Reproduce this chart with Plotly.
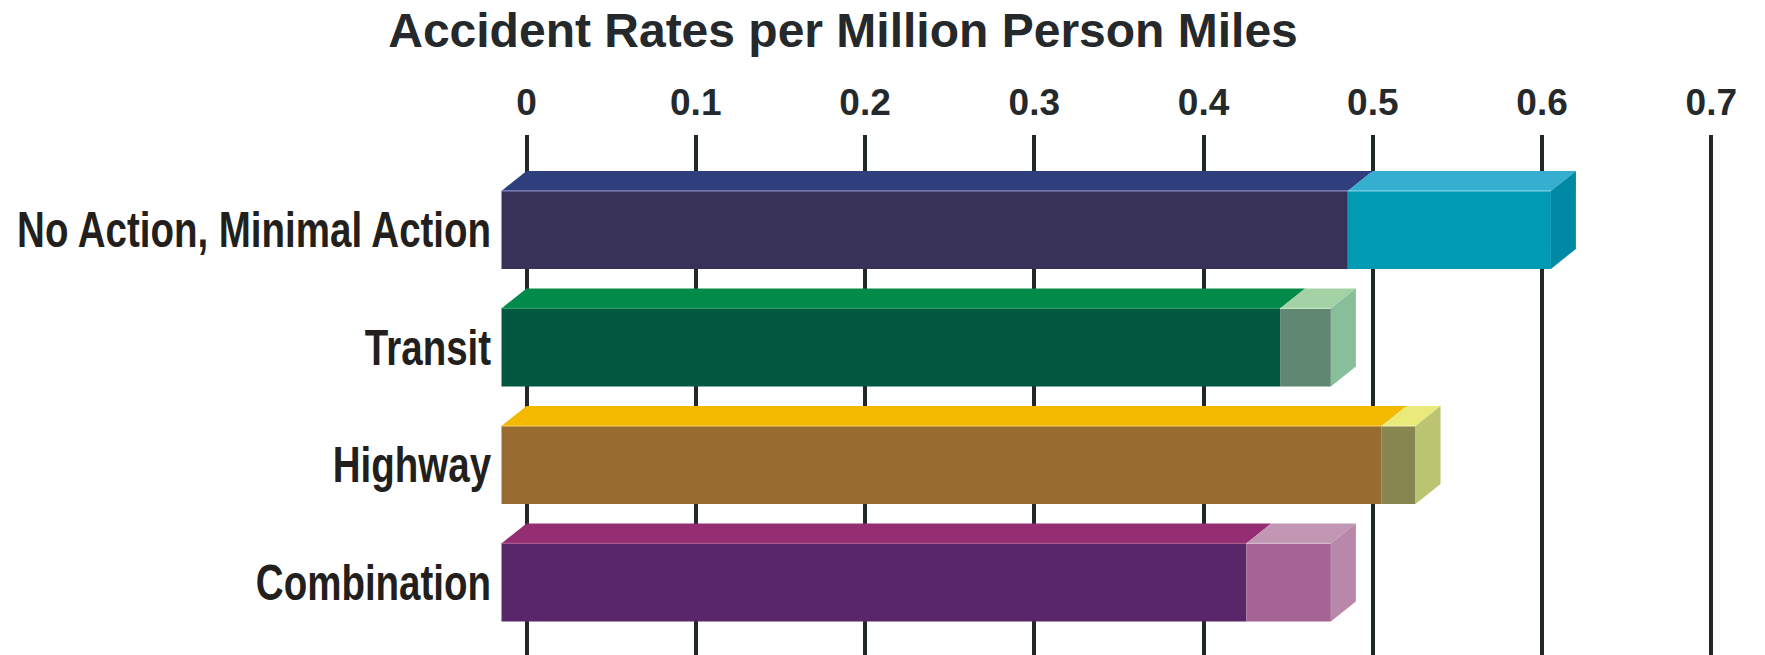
import plotly.graph_objects as go

# Accident rates per million person miles, by alternative
categories = ["No Action, Minimal Action", "Transit", "Highway", "Combination"]
lower_rate = [0.50, 0.46, 0.52, 0.44]
upper_rate = [0.62, 0.49, 0.54, 0.49]
tick_values = [0, 0.1, 0.2, 0.3, 0.4, 0.5, 0.6, 0.7]
tick_labels = ["0", "0.1", "0.2", "0.3", "0.4", "0.5", "0.6", "0.7"]

# Face colours per alternative: (front, top) for the lower and upper segments, plus end cap
front_low = ["#383158", "#01573f", "#986c31", "#58276a"]
top_low = ["#2f3f7d", "#028a4a", "#f3b900", "#952d73"]
front_high = ["#009ab5", "#5f8771", "#878550", "#a66494"]
top_high = ["#35aed0", "#a2d2a5", "#eaea7b", "#c197b3"]
side_high = ["#0089a5", "#87bf9b", "#bbc470", "#b987aa"]
edge_low = ["#8a8ec2", "#2f9a66", "#f6cc55", "#a95a8c"]
edge_high = ["#7fd0e6", "#c3e3c4", "#f2f2a8", "#d6b6cb"]

W, H = 1765, 655
M_L, M_T = 500, 135
PX_PER_UNIT = 1692.6       # horizontal pixels per 1.0 of rate
ZERO_PX = 526.5            # pixel column of the zero line
ROW_PX = 117.5             # vertical pixels per category row
ROW0_PX = 229.9            # pixel row of the first bar centre

x_min = -(ZERO_PX - M_L) / PX_PER_UNIT
x_max = x_min + (W - M_L) / PX_PER_UNIT
y_top = -(ROW0_PX - M_T) / ROW_PX
y_bottom = (H - ROW0_PX) / ROW_PX

bar_h = 78 / ROW_PX         # front face height (row units)
depth_x = 25 / PX_PER_UNIT  # 3D depth offset, data units
depth_y = 20 / ROW_PX

rows = list(range(len(categories)))
fig = go.Figure()

# Front faces: drawn shifted forward (left/down) by the depth offset
for seg_start, seg_end, colors in (
    ([0] * len(rows), lower_rate, front_low),
    (lower_rate, upper_rate, front_high),
):
    fig.add_trace(go.Bar(
        orientation="h",
        y=rows,
        base=[s - depth_x for s in seg_start],
        x=[e - s for s, e in zip(seg_start, seg_end)],
        width=bar_h,
        marker=dict(color=colors, line=dict(width=0)),
        hoverinfo="skip",
        showlegend=False,
    ))


def poly(xs, ys, color):
    fig.add_trace(go.Scatter(
        x=xs + [xs[0]], y=ys + [ys[0]], mode="lines", fill="toself",
        fillcolor=color, line=dict(width=0, color=color),
        hoverinfo="skip", showlegend=False,
    ))


def edge(x0, x1, y, color):
    fig.add_trace(go.Scatter(
        x=[x0, x1], y=[y, y], mode="lines",
        line=dict(width=1.2, color=color),
        hoverinfo="skip", showlegend=False,
    ))


for i in rows:
    y_front_top = i - bar_h / 2
    y_front_bot = i + bar_h / 2
    y_back_top = y_front_top - depth_y
    y_back_bot = y_front_bot - depth_y
    segs = [(0, lower_rate[i], top_low[i], edge_low[i]),
            (lower_rate[i], upper_rate[i], top_high[i], edge_high[i])]
    # top faces
    for s, e, c, _ in segs:
        poly([s - depth_x, s, e, e - depth_x],
             [y_front_top, y_back_top, y_back_top, y_front_top], c)
    # light crease along the front top edge
    for s, e, _, ec in segs:
        edge(s - depth_x, e - depth_x, y_front_top, ec)
    # right end face
    e = upper_rate[i]
    poly([e - depth_x, e, e, e - depth_x],
         [y_front_top, y_back_top, y_back_bot, y_front_bot], side_high[i])

fig.update_layout(
    width=W, height=H,
    margin=dict(l=M_L, r=0, t=M_T, b=0, pad=0),
    paper_bgcolor="white", plot_bgcolor="white",
    barmode="overlay",
    title=dict(
        text="Accident Rates per Million Person Miles",
        font=dict(family="Liberation Sans, Arial, sans-serif", size=48,
                  color="#25292b", weight="bold"),
        x=843 / W, xref="container", xanchor="center",
        y=1 - 29.7 / H, yref="container", yanchor="middle",
    ),
    xaxis=dict(
        side="top", range=[x_min, x_max], automargin=False,
        tickvals=tick_values, ticktext=tick_labels,
        tickfont=dict(family="Liberation Sans, Arial, sans-serif", size=37,
                      color="#25292b", weight="bold"),
        ticks="", ticklabelstandoff=12,
        showgrid=True, gridcolor="#22272a", gridwidth=3.5,
        zeroline=False, showline=False,
    ),
    yaxis=dict(
        range=[y_bottom, y_top], automargin=False,
        tickvals=rows, ticktext=categories,
        tickfont=dict(family="Liberation Sans, Arial, sans-serif",
                      size=50, color="#231f1c", weight="bold"),
        ticks="", ticklabelstandoff=8,
        showgrid=False, zeroline=False, showline=False,
    ),
)

# Category labels are set in a condensed style: squeeze them horizontally,
# keeping their right edge anchored next to the bars.
condense_js = """
var gd = document.getElementById('{plot_id}');
function condenseLabels() {
  gd.querySelectorAll('g.yaxislayer-above').forEach(function (g) {
    g.removeAttribute('transform');
    var b = g.getBBox();
    var x0 = b.x + b.width;
    g.setAttribute('transform',
      'translate(' + x0 + ',0) scale(0.77,1) translate(' + (-x0) + ',0)');
  });
}
condenseLabels();
gd.on('plotly_afterplot', condenseLabels);
"""

fig.write_html("out.html", post_script=condense_js)
